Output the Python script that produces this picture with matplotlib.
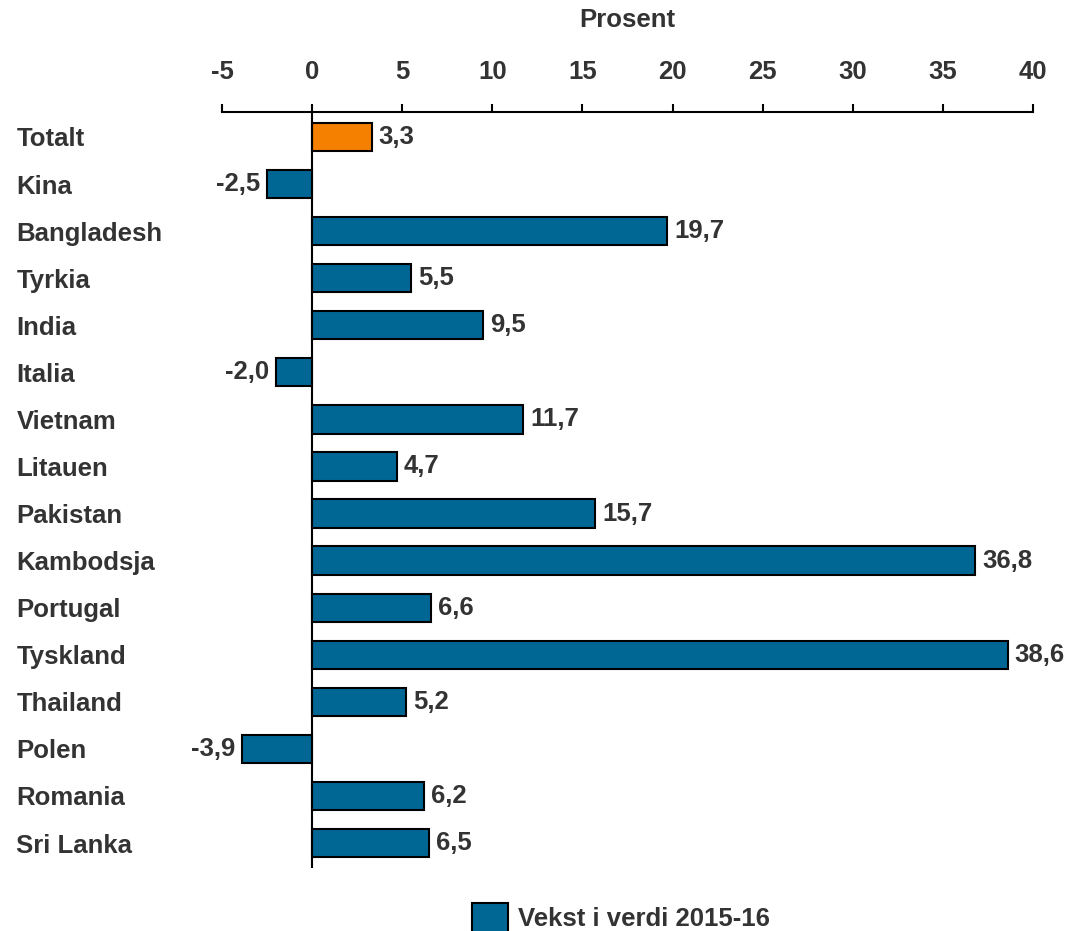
import matplotlib as mpl
from matplotlib import pyplot as plt
from matplotlib.patches import Patch

mpl.rc('font', family=['Liberation Sans', 'DejaVu Sans'], weight='bold', size=18.5)

# -------------------------
# Data
# -------------------------
land = ['Totalt', 'Kina', 'Bangladesh', 'Tyrkia', 'India', 'Italia', 'Vietnam',
        'Litauen', 'Pakistan', 'Kambodsja', 'Portugal', 'Tyskland', 'Thailand',
        'Polen', 'Romania', 'Sri Lanka']
vekst = [3.3, -2.5, 19.7, 5.5, 9.5, -2.0, 11.7, 4.7, 15.7, 36.8, 6.6, 38.6,
         5.2, -3.9, 6.2, 6.5]
xticks = [-5, 0, 5, 10, 15, 20, 25, 30, 35, 40]

blue = '#006795'
orange = '#f58000'
txt = '#333333'

fig = plt.figure(figsize=(10.69, 9.31), dpi=100)
ax = fig.add_axes([222/1069, 1-868/931, 811/1069, (868-112)/931])

farger = [orange] + [blue]*(len(land)-1)
y = list(range(len(land)))
ax.barh(y, vekst, height=0.6, color=farger, edgecolor='black', linewidth=1.5, zorder=2)
ax.axvline(0, color='black', lw=1.5, zorder=3)

for yi, v in zip(y, vekst):
    s = f'{v:.1f}'.replace('.', ',')
    if v >= 0:
        ax.annotate(s, (v, yi), xytext=(5, 0), textcoords='offset points',
                    ha='left', va='center', color=txt)
    else:
        ax.annotate(s, (v, yi), xytext=(-5, 0), textcoords='offset points',
                    ha='right', va='center', color=txt)

ax.set_xlim(-5, 40)
ax.set_ylim(len(land)-0.47, -0.53)
ax.xaxis.tick_top()
ax.xaxis.set_label_position('top')
ax.set_xticks(xticks)
ax.set_xticklabels([str(t) for t in xticks], color=txt)
ax.tick_params(axis='x', direction='out', length=6, width=1.5, pad=14)
ax.set_xlabel('Prosent', color=txt, fontweight='bold', labelpad=24)

ax.set_yticks(y)
ax.set_yticklabels(land, color=txt, ha='left')
ax.tick_params(axis='y', length=0, pad=148)

for s in ['left', 'right', 'bottom']:
    ax.spines[s].set_visible(False)
ax.spines['top'].set_linewidth(1.5)

fig.legend(handles=[Patch(facecolor=blue, edgecolor='black', linewidth=1.5)],
           labels=['Vekst i verdi 2015-16'], loc='upper left',
           bbox_to_anchor=(459/1069, 1-890/931), frameon=False, borderpad=0,
           handlelength=1.4, handleheight=1.4, handletextpad=0.4,
           labelcolor=txt)

plt.savefig('out.png', dpi=100)
